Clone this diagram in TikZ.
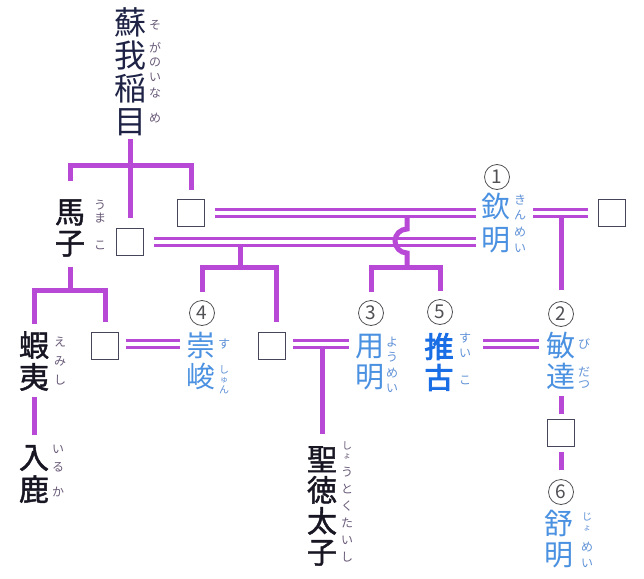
\documentclass[tikz,border=0pt]{standalone}
\usepackage{fontspec}
\newfontfamily\cjk{Noto Sans CJK JP}
\newfontfamily\cjkm[FakeBold=1.5]{Noto Sans CJK JP}
\newfontfamily\cjkb[FakeBold=3]{Noto Sans CJK JP}
\definecolor{lc}{RGB}{184,72,214}
\definecolor{blk}{RGB}{25,22,35}
\definecolor{navy}{RGB}{30,35,70}
\definecolor{blu}{RGB}{75,145,225}
\definecolor{blub}{RGB}{25,110,230}
\definecolor{rbc}{RGB}{105,90,120}
\definecolor{rbblue}{RGB}{95,145,215}
\definecolor{numc}{RGB}{80,80,85}
\definecolor{boxc}{RGB}{70,70,90}
\begin{document}
\begin{tikzpicture}[x=1pt,y=-1pt,
  kin/.style={draw=lc,line width=5pt},
  dbl/.style={draw=lc,line width=2.6pt,double=white,double distance=4pt},
  box/.style={draw=boxc,line width=0.9pt,minimum size=27pt,inner sep=0pt},
  num/.style={circle,draw=numc,line width=0.8pt,minimum size=25pt,inner sep=0pt,text=numc,font=\cjk\fontsize{19}{19}\selectfont},
  nm/.style={align=center,inner sep=0pt,font=\cjkm\fontsize{30}{31}\selectfont,text=blk},
  bl/.style={align=center,inner sep=0pt,font=\cjk\fontsize{29}{31}\selectfont,text=blu},
  rb/.style={align=center,inner sep=0pt,text=rbc,font={\cjk\fontsize{12}{#1}\selectfont\lineskiplimit=-100pt}},
  rb/.default=15,
  rbb/.style={rb=#1,text=rbblue},
  rbb/.default=15,
  sm/.style={align=center,inner sep=0pt,text=#1,font={\cjk\fontsize{10}{10}\selectfont}},
  tiny/.style={align=center,inner sep=0pt,text=#1,font={\cjk\fontsize{8}{8}\selectfont}},
]
\fill[white] (0,0) rectangle (644,578);
\useasboundingbox (0,0) rectangle (644,578);

% ---- names
\node[nm,font=\cjk\fontsize{32}{33}\selectfont,text=navy] (soga) at (130,72) {蘇\\我\\稲\\目};
\node[nm] (umako) at (70,228) {馬\\子};
\node[nm,font=\cjkm\fontsize{30}{32}\selectfont] (emishi) at (34,361) {蝦\\夷};
\node[nm,font=\cjkm\fontsize{30}{32}\selectfont] (iruka) at (34,474) {入\\鹿};
\node[nm] (shotoku) at (322,506) {聖\\徳\\太\\子};
\node[bl,font=\cjk\fontsize{29}{33}\selectfont] (kinmei) at (496,223) {欽\\明};
\node[bl] (bintatsu) at (561,361) {敏\\達};
\node[bl] (yomei) at (370,362) {用\\明};
\node[bl,font=\cjkb\fontsize{29}{31}\selectfont,text=blub] (suiko) at (439,362) {推\\古};
\node[bl] (sushun) at (201,361) {崇\\峻};
\node[bl] (jomei) at (559,539) {舒\\明};

% ---- ruby
\node[rb] (r-so1) at (155,25) {そ};
\node[rb=14] (r-so2) at (155,55) {が\\の};
\node[rb=16] (r-so3) at (155,86) {い\\な};
\node[rb] (r-so4) at (155,118) {め};
\node[rb=13] (r-um1) at (100,212) {う\\ま};
\node[rb] (r-um2) at (100,245) {こ};
\node[rbb] (r-ki1) at (520,207) {き\\ん};
\node[rbb=16] (r-ki2) at (520,240) {め\\い};
\node[rbb] (r-bi1) at (584,344) {び};
\node[rbb=12] (r-bi2) at (584,378) {だ\\つ};
\node[rbb] (r-yo1) at (392,350) {よ\\う};
\node[rbb] (r-yo2) at (392,380) {め\\い};
\node[rbb] (r-su1) at (465,345) {す\\い};
\node[rbb] (r-su2) at (465,380) {こ};
\node[rbb] (r-sh1) at (224,344) {す};
\node[sm=rbblue] (r-sh2) at (224,370) {し};
\node[tiny=rbblue] (r-sh3) at (224,380) {ゅ};
\node[sm=rbblue] (r-sh4) at (224,390) {ん};
\node[rb=19] (r-em) at (60,361) {え\\み\\し};
\node[rb=18] (r-ir1) at (58,459) {い\\る};
\node[rb] (r-ir2) at (58,492) {か};
\node[sm=rbc] (r-st1) at (347,446) {し};
\node[tiny=rbc] (r-st2) at (347,456) {ょ};
\node[rb=17] (r-st3) at (347,515) {う\\と\\く\\た\\い\\し};
\node[sm=rbblue] (r-jo1) at (587,517) {じ};
\node[tiny=rbblue] (r-jo2) at (587,528) {ょ};
\node[rbb=16] (r-jo3) at (587,555) {め\\い};

% ---- numbers
\node[num] (n1) at (497,177) {1};
\node[num] (n2) at (561,314) {2};
\node[num] (n3) at (371,313) {3};
\node[num] (n4) at (202,313) {4};
\node[num] (n5) at (440,312) {5};
\node[num] (n6) at (561,492) {6};

% ---- boxes
\node[box] (b1) at (191,213) {};
\node[box] (b2) at (130,242) {};
\node[box] (b3) at (612,213) {};
\node[box] (b4) at (105,346) {};
\node[box] (b5) at (272,346) {};
\node[box] (b6) at (561,433) {};

% ---- coordinates
\coordinate (f0) at (130,165);
\coordinate (f1) at (70,290);
\coordinate (j1) at (407,218);
\coordinate (f2) at (407,267);
\coordinate (j2) at (561,218);
\coordinate (j3) at (240,246);
\coordinate (f3) at (240,267);
\coordinate (j4) at (322,348);

% ---- 稲目
\draw[kin] ([yshift=-3pt]soga.south) -- ([yshift=10pt]b2.north);
\draw[kin] ([yshift=18pt]umako.north) |- (f0) -| ([yshift=9pt]b1.north);
% ---- 馬子
\draw[kin] ([yshift=-10pt]umako.south) -- (f1);
\draw[kin] ([yshift=7pt]emishi.north) |- (f1) -| ([yshift=10pt]b4.north);
\draw[kin] ([yshift=-6pt]emishi.south) -- ([yshift=10pt]iruka.north);

% ---- marriages (double lines)
\draw[dbl] ([xshift=10pt]b1.east) -- ([xshift=-5pt]kinmei.west |- b1.east);
\draw[dbl] ([xshift=10pt]b2.east) -- ([xshift=-5pt]kinmei.west |- b2.east);
\draw[dbl] ([xshift=7pt]r-ki2.east |- b3.west) -- ([xshift=-10pt]b3.west);
\draw[dbl] ([xshift=7pt,yshift=2pt]b4.east) -- ([xshift=-6pt,yshift=2pt]sushun.west |- b4.east);
\draw[dbl] ([xshift=7pt,yshift=2pt]b5.east) -- ([xshift=-6pt,yshift=2pt]yomei.west |- b5.east);
\draw[dbl] ([xshift=12pt,yshift=2pt]r-su2.east |- b5.east) -- ([xshift=-7pt,yshift=2pt]bintatsu.west |- b5.east);

% ---- children of 欽明
\draw[kin] (j1) -- (407,229) arc[start angle=90,end angle=270,radius=12pt] -- (f2);
\draw[kin] ([yshift=8pt]n3.north) |- (f2) -| ([yshift=8pt]n5.north);
\draw[kin] (j2) -- ([yshift=11pt]n2.north);
\draw[kin] (j3) -- (f3);
\draw[kin] ([yshift=8pt]n4.north) |- (f3) -| ([xshift=4pt,yshift=10pt]b5.north);
\draw[kin] (j4) -- ([yshift=12pt]shotoku.north);
\draw[kin] ([yshift=-6pt]bintatsu.south) -- ([yshift=5pt]b6.north);
\draw[kin] ([yshift=-5pt]b6.south) -- ([yshift=9pt]n6.north);
\end{tikzpicture}
\end{document}
